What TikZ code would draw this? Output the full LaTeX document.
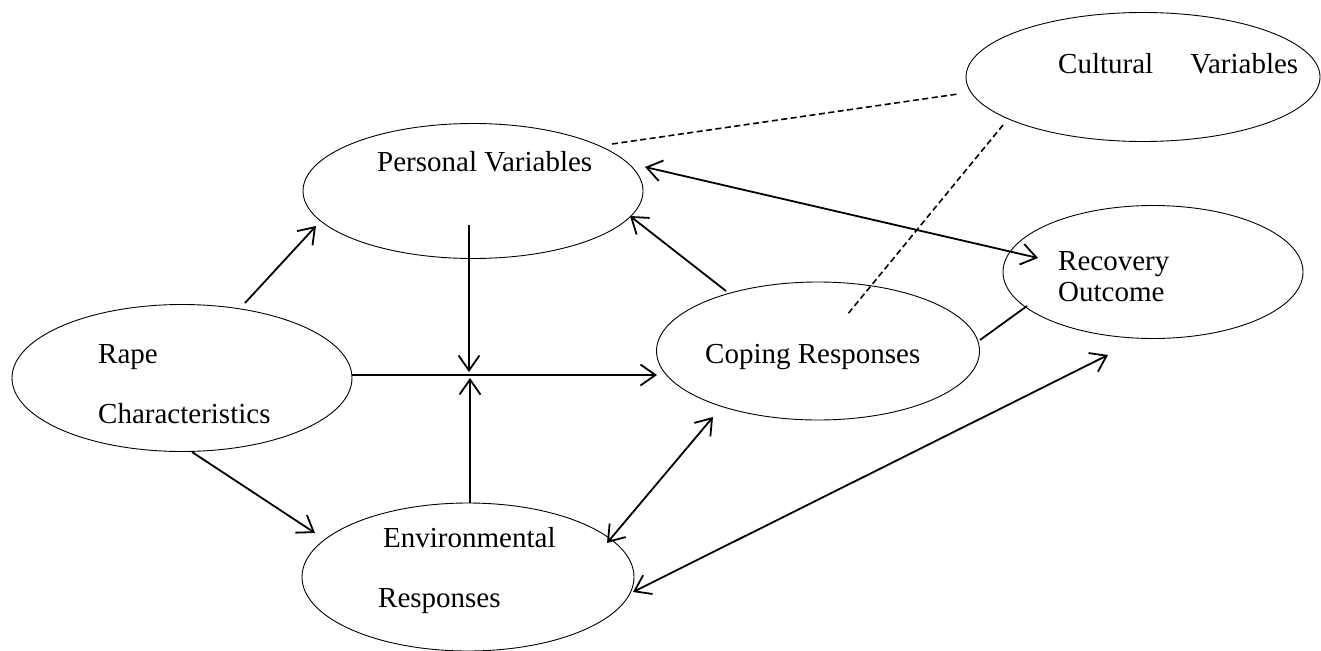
\documentclass[tikz,border=0pt]{standalone}
\usepackage{fontspec}
\setmainfont{Liberation Serif}
\usetikzlibrary{arrows.meta,shapes.geometric}
\tikzset{
  ell/.style={draw, ellipse, line width=0.9pt, inner sep=0pt, outer sep=0pt},
  lbl/.style={anchor=base west, inner sep=0pt, font=\fontsize{29}{34}\selectfont},
  conn/.style={line width=1.8pt},
  tip/.style={-{Straight Barb[length=15pt,width=21pt]}},
  both/.style={{Straight Barb[length=15pt,width=21pt]}-{Straight Barb[length=15pt,width=21pt]}},
  dsh/.style={line width=1.6pt, dash pattern=on 6pt off 3.5pt}
}
\begin{document}
\begin{tikzpicture}[x=1pt,y=-1pt]
\useasboundingbox (0,0) rectangle (1321,650);
\fill[white] (0,0) rectangle (1321,650);
% ellipses
\node[ell, minimum width=340pt, minimum height=147pt] (rc) at (182,378) {};
\node[ell, minimum width=340pt, minimum height=135pt] (pv) at (473,191) {};
\node[ell, minimum width=332pt, minimum height=148pt] (er) at (468,577) {};
\node[ell, minimum width=323pt, minimum height=138pt] (cr) at (818,351) {};
\node[ell, minimum width=300pt, minimum height=133pt] (ro) at (1153,272) {};
\node[ell, minimum width=354pt, minimum height=129pt] (cv) at (1143,77) {};
% texts
\node[lbl] (rct1) at (98,363) {Rape};
\node[lbl] (rct2) at (98,423) {Characteristics};
\node[lbl] (pvt) at (377,171) {Personal Variables};
\node[lbl] (ert1) at (383,547) {Environmental};
\node[lbl] (ert2) at (378,607) {Responses};
\node[lbl] (crt) at (705,363) {Coping Responses};
\node[lbl] (rot1) at (1058,270) {Recovery};
\node[lbl] (rot2) at (1058,301) {Outcome};
\node[lbl] (cvt) at (1058,74) {Cultural\hspace{37pt}Variables};
% connector ends
\coordinate (rc-pv) at (245,303);  \coordinate (pv-rc) at (316,226);
\coordinate (rc-er) at (192,452);  \coordinate (er-rc) at (315,533);
\coordinate (rc-cr) at (352,375);  \coordinate (cr-rc) at (657,375);
\coordinate (pv-x) at (469,225);   \coordinate (x-pv) at (469,372);
\coordinate (er-x) at (470,503);   \coordinate (x-er) at (470,378);
\coordinate (cr-pv) at (726,291);  \coordinate (pv-cr) at (630,216);
\coordinate (pv-ro) at (645,167);  \coordinate (ro-pv) at (1038,258);
\coordinate (cr-ro) at (980,340);  \coordinate (ro-cr) at (1027,306);
\coordinate (er-cr) at (607,543);  \coordinate (cr-er) at (713,417);
\coordinate (er-ro) at (633,592);  \coordinate (ro-er) at (1108,355);
\coordinate (pv-cv) at (612,144);  \coordinate (cv-pv) at (958,94);
\coordinate (cv-cr) at (1003,125); \coordinate (cr-cv) at (847,315);
% connectors
\draw[conn,tip] (rc-pv) -- (pv-rc);
\draw[conn,tip] (rc-er) -- (er-rc);
\draw[conn,tip] (rc-cr) -- (cr-rc);
\draw[conn,tip] (pv-x) -- (x-pv);
\draw[conn,tip] (er-x) -- (x-er);
\draw[conn,tip] (cr-pv) -- (pv-cr);
\draw[conn,both] (pv-ro) -- (ro-pv);
\draw[conn] (cr-ro) -- (ro-cr);
\draw[conn,both] (er-cr) -- (cr-er);
\draw[conn,both] (er-ro) -- (ro-er);
\draw[dsh] (pv-cv) -- (cv-pv);
\draw[dsh] (cv-cr) -- (cr-cv);
\end{tikzpicture}
\end{document}
